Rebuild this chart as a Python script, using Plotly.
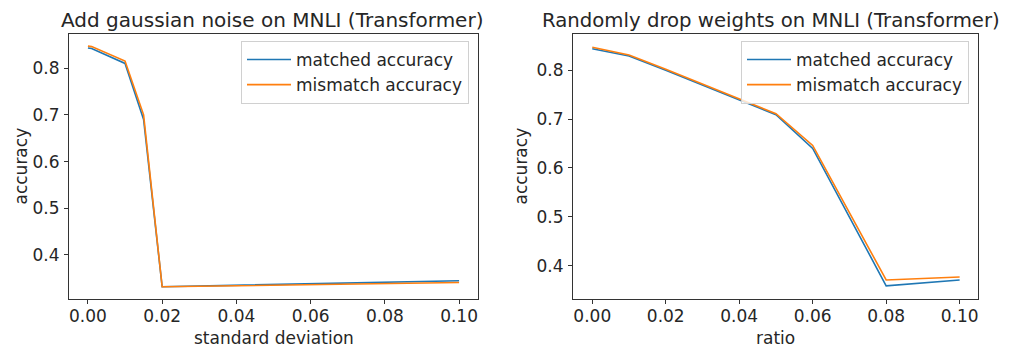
import plotly.graph_objects as go

# Left panel: gaussian noise
noise_std = [0.0, 0.001, 0.01, 0.015, 0.02, 0.1]
noise_matched = [0.843, 0.842, 0.810, 0.690, 0.332, 0.345]
noise_mismatch = [0.847, 0.846, 0.815, 0.700, 0.332, 0.341]

# Right panel: randomly drop weights
drop_ratio = [0.0, 0.01, 0.02, 0.03, 0.04, 0.05, 0.06, 0.08, 0.1]
drop_matched = [0.844, 0.829, 0.800, 0.770, 0.740, 0.709, 0.640, 0.359, 0.371]
drop_mismatch = [0.847, 0.831, 0.802, 0.772, 0.742, 0.711, 0.646, 0.371, 0.377]

x_ticks = [0.0, 0.02, 0.04, 0.06, 0.08, 0.1]
y_ticks = [0.4, 0.5, 0.6, 0.7, 0.8]

BLUE = "#1f77b4"
ORANGE = "#ff7f0e"
FONT = "DejaVu Sans"
TXT = "#262626"

W, H = 1011, 349
OFF = 8  # page body margin offset

def fx(px):
    return (px - OFF) / W

def fy(py):
    return 1 - (py - OFF) / H

fig = go.Figure()

fig.add_trace(go.Scatter(x=noise_std, y=noise_matched, mode="lines", name="matched accuracy",
                         line=dict(color=BLUE, width=1.6), xaxis="x", yaxis="y", legend="legend"))
fig.add_trace(go.Scatter(x=noise_std, y=noise_mismatch, mode="lines", name="mismatch accuracy",
                         line=dict(color=ORANGE, width=1.6), xaxis="x", yaxis="y", legend="legend"))
fig.add_trace(go.Scatter(x=drop_ratio, y=drop_matched, mode="lines", name="matched accuracy",
                         line=dict(color=BLUE, width=1.6), xaxis="x2", yaxis="y2", legend="legend2"))
fig.add_trace(go.Scatter(x=drop_ratio, y=drop_mismatch, mode="lines", name="mismatch accuracy",
                         line=dict(color=ORANGE, width=1.6), xaxis="x2", yaxis="y2", legend="legend2"))

axis_common = dict(
    showgrid=False, zeroline=False, showline=True, linecolor="#333333", linewidth=1,
    mirror=True, ticks="outside", ticklen=4, tickcolor="#333333", automargin=False,
    tickfont=dict(family=FONT, size=17, color=TXT),
)
xaxis_extra = dict(ticklabelstandoff=-2)
yaxis_extra = dict(ticklabelstandoff=1)

ydom = [fy(299), fy(34)]
L1, R1 = 69, 478
L2, R2 = 573, 978

legend_common = dict(xanchor="right", yanchor="top", bgcolor="rgba(255,255,255,0.8)",
                     bordercolor="#d0d0d0", borderwidth=1, itemwidth=44,
                     font=dict(family=FONT, size=17, color=TXT))

def ann(text, x, y, size, angle=0):
    return dict(text=text, x=fx(x), y=fy(y), xref="paper", yref="paper",
                xanchor="center", yanchor="middle", showarrow=False, textangle=angle,
                font=dict(family=FONT, size=size, color=TXT))

fig.update_layout(
    width=W, height=H,
    margin=dict(l=0, r=0, t=0, b=0),
    paper_bgcolor="white", plot_bgcolor="white",
    font=dict(family=FONT, color=TXT),
    xaxis=dict(domain=[fx(L1), fx(R1)], range=[-0.0051, 0.1051], tickvals=x_ticks,
               tickformat=".2f", anchor="y", **axis_common, **xaxis_extra),
    yaxis=dict(domain=ydom, range=[0.3058, 0.873], tickvals=y_ticks, tickformat=".1f", anchor="x",
               **axis_common, **yaxis_extra),
    xaxis2=dict(domain=[fx(L2), fx(R2)], range=[-0.00525, 0.105], tickvals=x_ticks,
                tickformat=".2f", anchor="y2", **axis_common, **xaxis_extra),
    yaxis2=dict(domain=ydom, range=[0.332, 0.874], tickvals=y_ticks, tickformat=".1f", anchor="x2",
                **axis_common, **yaxis_extra),
    legend=dict(x=fx(469), y=fy(41), **legend_common),
    legend2=dict(x=fx(969), y=fy(41), **legend_common),
    showlegend=True,
    annotations=[
        ann("Add gaussian noise on MNLI (Transformer)", 272, 20, 20),
        ann("Randomly drop weights on MNLI (Transformer)", 771, 20, 19.7),
        ann("standard deviation", (L1 + R1) / 2, 338, 17),
        ann("ratio", (L2 + R2) / 2, 338, 17),
        ann("accuracy", 20, (34 + 299) / 2, 17, -90),
        ann("accuracy", 520, (34 + 299) / 2, 17, -90),
    ],
)

fig.write_html("out.html")
